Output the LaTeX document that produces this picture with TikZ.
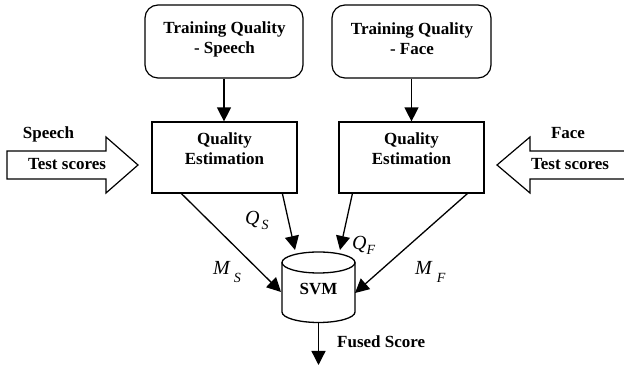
\documentclass[tikz,border=0pt]{standalone}
\usepackage{fontspec}
\setmainfont{Liberation Serif}
\usetikzlibrary{arrows.meta,calc}
\tikzset{
  bt/.style={font=\fontsize{17}{20}\selectfont\bfseries, align=center, inner sep=0pt},
  tbox/.style={draw, line width=1.2pt, rounded corners=13pt, minimum width=158pt, minimum height=73pt, inner sep=0pt},
  qbox/.style={draw, line width=1.2pt, minimum width=145pt, minimum height=71pt, inner sep=0pt},
  conn/.style={line width=1.3pt, -{Triangle[length=14pt,width=14pt]}},
  blockarrow/.style={draw, line width=1.2pt},
  lab/.style={font=\fontsize{20}{20}\selectfont\itshape, anchor=base west, inner sep=0pt},
}
\newcommand{\subtxt}[2]{\raisebox{-#1pt}{\fontsize{14}{14}\selectfont #2}}
\begin{document}
\begin{tikzpicture}[x=1pt,y=1pt]
\useasboundingbox (0,0) rectangle (624,366);
% top boxes
\node[tbox] (tqs) at (224,324.5) {};
\node[bt] (tqst) at (224.5,327) {Training Quality\\- Speech};
\node[tbox, minimum width=159pt] (tqf) at (411.5,324.5) {};
\node[bt] (tqft) at (412,327.7) {Training Quality\\- Face};
% quality estimation boxes
\node[qbox] (qes) at (224.5,208.5) {};
\node[bt] (qest) at (224.5,217) {Quality\\Estimation};
\node[qbox] (qef) at (411.5,208.5) {};
\node[bt] (qeft) at (411.5,217) {Quality\\Estimation};
% vertical arrows
\draw[conn] (tqs.south) -- (tqs.south |- qes.north);
\draw[conn] (tqf.south) -- (tqf.south |- qef.north);
% block arrows
\draw[blockarrow] (7,187) -- (106,187) -- (106,173) -- (138,201) -- (106,229) -- (106,215) -- (7,215) -- cycle;
\node[bt, anchor=base] (sp) at (48.5,227.5) {Speech};
\node[bt, anchor=base] (spt) at (67,196) {Test scores};
\draw[blockarrow] (630,187) -- (530,187) -- (530,173) -- (497,201) -- (530,229) -- (530,215) -- (630,215);
\node[bt, anchor=base] (fc) at (568,227.5) {Face};
\node[bt, anchor=base] (fct) at (570,196) {Test scores};
% SVM cylinder
\node[bt] (svm) at (318.5,76.5) {SVM};
\draw[line width=1.3pt] ($(svm)+(-36.5,27)$) -- ($(svm)+(-36.5,-22.5)$)
  arc[start angle=180,end angle=360,x radius=36.5,y radius=10.5]
  -- ($(svm)+(36.5,27)$);
\draw[line width=1.3pt] ($(svm)+(0,27)$) ellipse[x radius=36.5,y radius=10.5];
% connectors into SVM
\coordinate (msin) at ($(svm)+(-37.5,-2.5)$);
\coordinate (mfin) at ($(svm)+(36.5,-3.5)$);
\coordinate (qsin) at ($(svm)+(-23.5,39.5)$);
\coordinate (qfin) at ($(svm)+(21.5,39.5)$);
\coordinate (out) at (318.5,1);
\draw[conn] ($(qes.south west)+(30,0)$) -- (msin);
\draw[conn] ($(qes.south west)+(131,0)$) -- (qsin);
\draw[conn] ($(qef.south west)+(14,0)$) -- (qfin);
\draw[conn] ($(qef.south west)+(129,0)$) -- (mfin);
\draw[conn] ($(svm)+(0,-32.5)$) -- (out);
% labels
\node[lab] (lqs) at (245,141) {Q\kern2pt\subtxt{5}{S}};
\node[lab] (lms) at (213,91) {M\kern4pt\subtxt{8}{S}};
\node[lab] (lqf) at (352,116) {Q\kern0pt\subtxt{5}{F}};
\node[lab] (lmf) at (415,91) {M\kern5pt\subtxt{8}{F}};
\node[bt, anchor=base west] (fs) at (337,18) {Fused Score};
\end{tikzpicture}
\end{document}
